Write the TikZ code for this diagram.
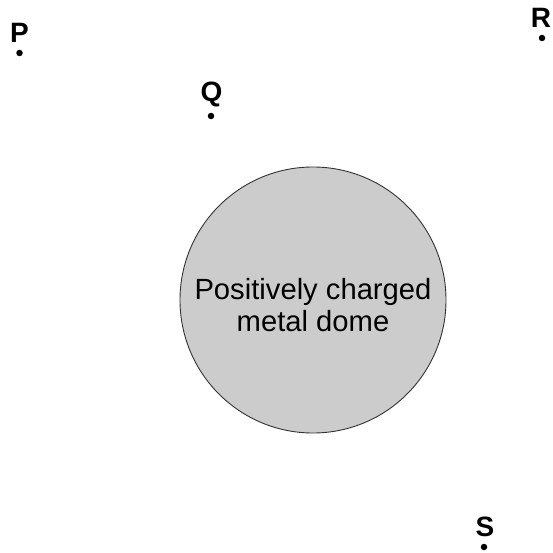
\documentclass[tikz,border=0pt]{standalone}
\usepackage{fontspec}
\setmainfont{Liberation Sans}
\begin{document}
\begin{tikzpicture}[x=1pt,y=-1pt,
    dot/.style={circle,fill=black,inner sep=0pt,minimum size=6.5pt},
    lbl/.style={font=\fontsize{28}{32}\selectfont\bfseries,inner sep=0pt,anchor=base},
    dome/.style={circle,draw=black!80,line width=0.9pt,fill=black!20,minimum size=266pt,inner sep=0pt},
    domelbl/.style={align=center,inner sep=0pt,font=\fontsize{29.2}{32}\selectfont}]
  \useasboundingbox (0,0) rectangle (553,553);
  \node[dome] (dome) at (313,300) {};
  \node[domelbl] (domelbl) at (313,305) {Positively charged\\metal dome};
  \node[dot] (P) at (19.5,53) {};
  \node[dot] (Q) at (211,116) {};
  \node[dot] (R) at (542,38) {};
  \node[dot] (S) at (484,547) {};
  \node[lbl] (Plbl) at (19.5,43) {P};
  \node[lbl] (Qlbl) at (211.5,102) {Q};
  \node[lbl] (Rlbl) at (541,28) {R};
  \node[lbl] (Slbl) at (485,536) {S};
\end{tikzpicture}
\end{document}
